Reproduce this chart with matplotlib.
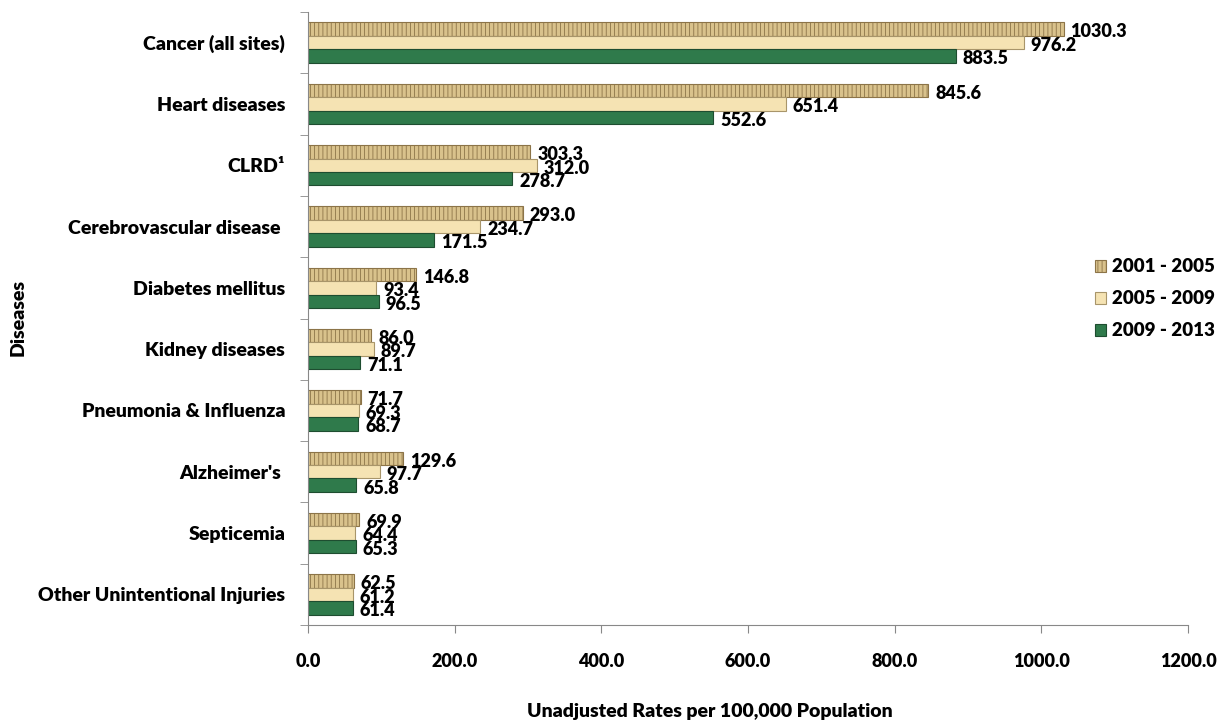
import matplotlib
matplotlib.use('Agg')
import matplotlib.pyplot as plt
import numpy as np

plt.rcParams['font.family'] = ['Lato', 'DejaVu Sans']
plt.rcParams['font.weight'] = 'heavy'
plt.rcParams['hatch.linewidth'] = 0.6

diseases = ['Cancer (all sites)', 'Heart diseases', 'CLRD\u00b9', 'Cerebrovascular disease ',
            'Diabetes mellitus', 'Kidney diseases', 'Pneumonia & Influenza',
            "Alzheimer's ", 'Septicemia', 'Other Unintentional Injuries']
p2001 = [1030.3, 845.6, 303.3, 293.0, 146.8, 86.0, 71.7, 129.6, 69.9, 62.5]
p2005 = [976.2, 651.4, 312.0, 234.7, 93.4, 89.7, 69.3, 97.7, 64.4, 61.2]
p2009 = [883.5, 552.6, 278.7, 171.5, 96.5, 71.1, 68.7, 65.8, 65.3, 61.4]
series_names = ['2001 - 2005', '2005 - 2009', '2009 - 2013']

fig = plt.figure(figsize=(12.25, 7.23), dpi=100)
ax = fig.add_axes([308/1225, 1 - 625/723, 880/1225, 613/723])

y = np.arange(len(diseases))
h = 0.22
styles = [
    dict(color='#D9C28C', edgecolor='#8C7448', hatch='||||'),
    dict(color='#F5E3B3', edgecolor='#A8956A', hatch=None),
    dict(color='#2F7A4B', edgecolor='#1E4D30', hatch=None),
]
handles = []
for i, (vals, st) in enumerate(zip([p2001, p2005, p2009], styles)):
    pos = y + (i - 1) * h
    b = ax.barh(pos, vals, height=h, color=st['color'], edgecolor=st['edgecolor'],
                hatch=st['hatch'], linewidth=0.8, label=series_names[i])
    handles.append(b)
    for p, v in zip(pos, vals):
        ax.annotate(f'{v:.1f}', (v, p), xytext=(5, -2), textcoords='offset points',
                    va='center', ha='left', fontsize=13)

ax.set_ylim(len(diseases) - 0.5, -0.5)
ax.set_xlim(0, 1200)
ax.set_xticks(np.arange(0, 1201, 200))
ax.set_xticklabels([f'{t:.1f}' for t in np.arange(0, 1201, 200)], fontsize=13)
ax.set_yticks(y)
ax.set_yticklabels(diseases, fontsize=14)
ax.set_yticks(np.arange(-0.5, len(diseases), 1), minor=True)
ax.tick_params(axis='y', which='major', length=0, pad=16.5)
ax.tick_params(axis='y', which='minor', length=6, color='#888888', direction='out')
ax.tick_params(axis='x', length=6, color='#888888', pad=14)
for s in ['top', 'right']:
    ax.spines[s].set_visible(False)
for s in ['left', 'bottom']:
    ax.spines[s].set_color('#888888')

fig.text(18/1225, 1 - 318/723, 'Diseases', rotation=90, va='center', ha='center', fontsize=14)
fig.text(710/1225, 1 - 712/723, 'Unadjusted Rates per 100,000 Population', va='center',
         ha='center', fontsize=14)

fig.legend(handles=handles, loc='center left', bbox_to_anchor=(1078/1225, 1 - 299/723),
           frameon=False, fontsize=13.5, handlelength=0.6, handleheight=0.6,
           handletextpad=0.3, labelspacing=0.8)

fig.savefig('out.png', dpi=100)
